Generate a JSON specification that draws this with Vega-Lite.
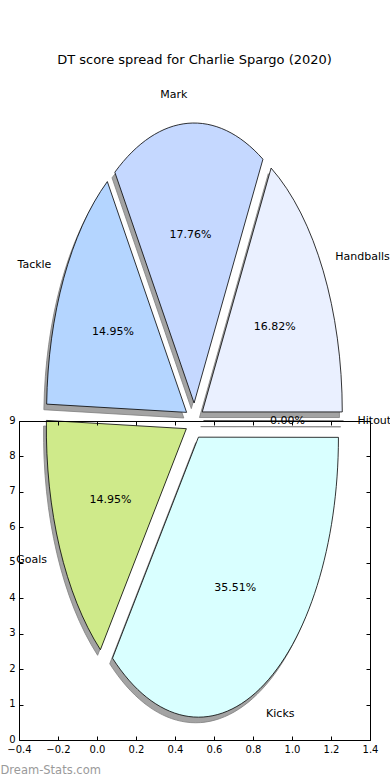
{
  "$schema": "https://vega.github.io/schema/vega-lite/v6.json",
  "width": 351,
  "height": 319,
  "autosize": {"type": "none"},
  "padding": {"left": 19, "top": 421, "right": 20, "bottom": 40},
  "background": "white",
  "config": {"font": "DejaVu Sans", "view": {"stroke": null}},
  "title": {"text": "DT score spread for Charlie Spargo (2020)", "font": "DejaVu Sans", "fontSize": 13, "fontWeight": "normal", "color": "#000", "anchor": "middle", "frame": "group", "baseline": "middle", "offset": 16},
  "data": {"values": [
    {"label": "Handballs", "pct": 16.82},
    {"label": "Mark", "pct": 17.76},
    {"label": "Tackle", "pct": 14.95},
    {"label": "Goals", "pct": 14.95},
    {"label": "Kicks", "pct": 35.51},
    {"label": "Hitout", "pct": 0}
  ]},
  "transform": [
    {"window": [{"op": "sum", "field": "pct", "as": "cum"}], "frame": [null, 0]},
    {"calculate": "(datum.cum - datum.pct) * PI / 50", "as": "a0"},
    {"calculate": "datum.cum * PI / 50", "as": "a1"},
    {"calculate": "(datum.a0 + datum.a1) / 2", "as": "mid"},
    {"calculate": "9 * cos(datum.mid)", "as": "ox"},
    {"calculate": "-18 * sin(datum.mid)", "as": "oy"},
    {"calculate": "'M' + round(datum.ox * 100) / 100 + ',' + round(datum.oy * 100) / 100 + 'L' + round((datum.ox + 140 * cos(datum.a0)) * 100) / 100 + ',' + round((datum.oy - 280 * sin(datum.a0)) * 100) / 100 + (datum.pct > 0 ? 'A140,280 0 ' + (datum.pct > 50 ? 1 : 0) + ' 0 ' + round((datum.ox + 140 * cos(datum.a1)) * 100) / 100 + ',' + round((datum.oy - 280 * sin(datum.a1)) * 100) / 100 : '') + 'Z'", "as": "wedge"},
    {"calculate": "0.5 + 0.8359 * cos(datum.mid)", "as": "lx"},
    {"calculate": "9 + 9.198 * sin(datum.mid)", "as": "ly"},
    {"calculate": "0.5 + 0.4769 * cos(datum.mid)", "as": "tx"},
    {"calculate": "9 + 5.248 * sin(datum.mid)", "as": "ty"},
    {"calculate": "format(datum.pct, '.2f') + '%'", "as": "pctText"}
  ],
  "resolve": {"axis": {"x": "independent", "y": "independent"}},
  "layer": [
    {
      "mark": {"type": "point", "filled": true, "fill": "#a3a3a3", "stroke": "#7f7f7f", "strokeWidth": 0.8, "opacity": 1, "size": 4, "xOffset": -2.8, "yOffset": 5.6},
      "encoding": {
        "x": {"datum": 0.5, "type": "quantitative", "scale": {"domain": [-0.4, 1.4], "nice": false, "zero": false},
          "axis": {"orient": "bottom", "values": [-0.4, -0.2, 0, 0.2, 0.4, 0.6, 0.8, 1, 1.2, 1.4], "format": ".1f", "tickSize": -4, "tickColor": "#000", "tickWidth": 1, "labelPadding": 8, "labelFlush": false, "labelOverlap": false, "domainColor": "#000", "domainWidth": 1, "labelColor": "#000", "labelFontSize": 10, "labelFont": "DejaVu Sans", "grid": false, "zindex": 1,
            "title": "Dream-Stats.com", "titleX": -19, "titleY": 30, "titleAlign": "left", "titleAnchor": "start", "titleBaseline": "middle", "titleColor": "#9a9a9a", "titleFontSize": 11.5, "titleFontWeight": "normal", "titleFont": "DejaVu Sans"}},
        "y": {"datum": 9, "type": "quantitative", "scale": {"domain": [0, 9], "nice": false, "zero": false},
          "axis": {"orient": "left", "values": [0, 1, 2, 3, 4, 5, 6, 7, 8, 9], "format": "d", "tickSize": -4, "tickColor": "#000", "tickWidth": 1, "labelPadding": 8, "labelOffset": -1, "labelFlush": false, "labelOverlap": false, "domainColor": "#000", "domainWidth": 1, "labelColor": "#000", "labelFontSize": 10, "labelFont": "DejaVu Sans", "grid": false, "zindex": 1, "title": null}},
        "shape": {"field": "wedge", "type": "nominal", "scale": null}
      }
    },
    {
      "mark": {"type": "point", "filled": true, "stroke": "#000", "strokeWidth": 0.8, "opacity": 1, "size": 4},
      "encoding": {
        "x": {"datum": 0.5, "type": "quantitative", "scale": {"domain": [-0.4, 1.4], "nice": false, "zero": false},
          "axis": {"orient": "top", "values": [-0.4, -0.2, 0, 0.2, 0.4, 0.6, 0.8, 1, 1.2, 1.4], "labels": false, "tickSize": -4, "tickColor": "#000", "tickWidth": 1, "domainColor": "#000", "domainWidth": 1, "grid": false, "zindex": 1, "title": null}},
        "y": {"datum": 9, "type": "quantitative", "scale": {"domain": [0, 9], "nice": false, "zero": false},
          "axis": {"orient": "right", "values": [0, 1, 2, 3, 4, 5, 6, 7, 8, 9], "labels": false, "tickSize": -4, "tickColor": "#000", "tickWidth": 1, "domainColor": "#000", "domainWidth": 1, "grid": false, "zindex": 1, "title": null}},
        "shape": {"field": "wedge", "type": "nominal", "scale": null},
        "color": {"field": "label", "type": "nominal", "legend": null,
          "scale": {"domain": ["Handballs", "Mark", "Tackle", "Goals", "Kicks", "Hitout"], "range": ["#eaf0ff", "#c5d8ff", "#b4d5ff", "#cfea8a", "#d9ffff", "#ffd9d9"]}}
      }
    },
    {
      "transform": [{"filter": "cos(datum.mid) > 0"}],
      "mark": {"type": "text", "align": "left", "baseline": "middle", "fontSize": 11, "font": "DejaVu Sans", "color": "#000"},
      "encoding": {
        "x": {"field": "lx", "type": "quantitative", "scale": {"domain": [-0.4, 1.4], "nice": false, "zero": false}, "axis": null},
        "y": {"field": "ly", "type": "quantitative", "scale": {"domain": [0, 9], "nice": false, "zero": false}, "axis": null},
        "text": {"field": "label"}
      }
    },
    {
      "transform": [{"filter": "cos(datum.mid) <= 0"}],
      "mark": {"type": "text", "align": "right", "baseline": "middle", "fontSize": 11, "font": "DejaVu Sans", "color": "#000"},
      "encoding": {
        "x": {"field": "lx", "type": "quantitative", "scale": {"domain": [-0.4, 1.4], "nice": false, "zero": false}, "axis": null},
        "y": {"field": "ly", "type": "quantitative", "scale": {"domain": [0, 9], "nice": false, "zero": false}, "axis": null},
        "text": {"field": "label"}
      }
    },
    {
      "mark": {"type": "text", "align": "center", "baseline": "middle", "fontSize": 11, "font": "DejaVu Sans", "color": "#000"},
      "encoding": {
        "x": {"field": "tx", "type": "quantitative", "scale": {"domain": [-0.4, 1.4], "nice": false, "zero": false}, "axis": null},
        "y": {"field": "ty", "type": "quantitative", "scale": {"domain": [0, 9], "nice": false, "zero": false}, "axis": null},
        "text": {"field": "pctText"}
      }
    }
  ]
}
